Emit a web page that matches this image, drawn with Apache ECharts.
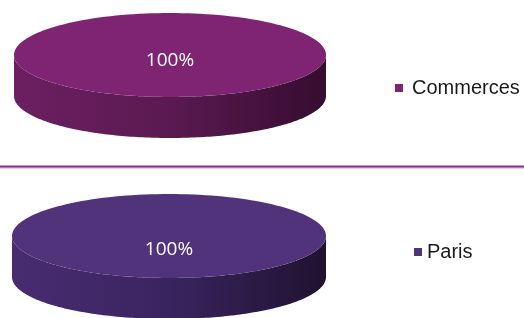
<!DOCTYPE html>
<html>
<head>
<meta charset="utf-8">
<script src="https://cdn.jsdelivr.net/npm/echarts@6/dist/echarts.min.js"></script>
<style>
html,body{margin:0;padding:0;background:#fff}
#chart{width:524px;height:318px}
</style>
</head>
<body>
<div id="chart"></div>
<script>
// each pie has a single category, so it is a full 100 % disc
const commercesNames = ['Commerces'];
const commercesValues = [100];
const parisNames = ['Paris'];
const parisValues = [100];

const myChart = echarts.init(document.getElementById('chart'));

// draws a tilted pie (top face + visible side) for every slice
function pie3d(names, values, geo, colors) {
    const total = values.reduce((a, b) => a + b, 0);
    const starts = [];
    let acc = 0;
    values.forEach(v => { starts.push(acc); acc += v; });
    const pt = (t, dy) => [geo.cx + geo.rx * Math.cos(t), geo.cy + geo.ry * Math.sin(t) + dy];

    return {
        type: 'custom',
        name: names[0],
        coordinateSystem: 'none',
        itemStyle: { color: colors.top },
        data: values.map(v => [v]),
        renderItem(params, api) {
            const i = params.dataIndex;
            const v = api.value(0);
            const a0 = -Math.PI / 2 + starts[i] / total * Math.PI * 2;
            const a1 = a0 + v / total * Math.PI * 2;
            const full = v >= total;
            const steps = 160;
            const children = [];

            // side walls, only the front half (0..PI) is seen
            for (let k = -1; k <= 1; k++) {
                const s = Math.max(a0, k * 2 * Math.PI);
                const e = Math.min(a1, k * 2 * Math.PI + Math.PI);
                if (e <= s) continue;
                const pts = [];
                for (let j = 0; j <= steps; j++) pts.push(pt(s + (e - s) * j / steps, 0));
                for (let j = steps; j >= 0; j--) pts.push(pt(s + (e - s) * j / steps, geo.depth));
                children.push({
                    type: 'polygon',
                    shape: { points: pts },
                    style: {
                        fill: new echarts.graphic.LinearGradient(geo.cx - geo.rx, 0, geo.cx + geo.rx, 0, [
                            { offset: 0, color: colors.sideL },
                            { offset: 0.5, color: colors.sideM },
                            { offset: 1, color: colors.sideR }
                        ], true)
                    }
                });
            }

            // top face
            const top = [];
            if (!full) top.push([geo.cx, geo.cy]);
            for (let j = 0; j <= steps; j++) top.push(pt(a0 + (a1 - a0) * j / steps, 0));
            children.push({ type: 'polygon', shape: { points: top }, style: { fill: colors.top } });

            children.push({
                type: 'text',
                x: geo.lx,
                y: geo.ly,
                style: {
                    text: Math.round(v / total * 100) + '%',
                    fill: '#fff',
                    font: '19px "Open Sans"',
                    align: 'center',
                    verticalAlign: 'middle'
                }
            });
            return { type: 'group', children };
        }
    };
}

myChart.setOption({
    animation: false,
    legend: [
        {
            data: commercesNames,
            left: 395, top: 78,
            icon: 'rect', itemWidth: 8, itemHeight: 8,
            padding: 0,
            textStyle: { fontFamily: 'Liberation Sans', fontSize: 20, color: '#1a1a1a', padding: [0, 0, 0, 4] }
        },
        {
            data: parisNames,
            left: 414, top: 242,
            icon: 'rect', itemWidth: 8, itemHeight: 8,
            padding: 0,
            textStyle: { fontFamily: 'Liberation Sans', fontSize: 20, color: '#1a1a1a', padding: [0, 0, 0, 0] }
        }
    ],
    graphic: [
        { type: 'rect', shape: { x: 0, y: 165, width: 524, height: 1 }, style: { fill: '#e3b8e3' } },
        { type: 'rect', shape: { x: 0, y: 165.7, width: 524, height: 2 }, style: { fill: '#8e2a8e' } },
        { type: 'rect', shape: { x: 0, y: 167.7, width: 524, height: 1 }, style: { fill: '#e3b8e3' } }
    ],
    series: [
        pie3d(commercesNames, commercesValues,
            { cx: 170, cy: 55, rx: 156, ry: 42, depth: 41, lx: 170, ly: 61 },
            { top: '#7f2472', sideL: '#6c1f61', sideM: '#5a1a51', sideR: '#360c30' }),
        pie3d(parisNames, parisValues,
            { cx: 169, cy: 236, rx: 157, ry: 42, depth: 41, lx: 169, ly: 250 },
            { top: '#50337a', sideL: '#482c70', sideM: '#3a2460', sideR: '#20122f' })
    ]
});
</script>
</body>
</html>
